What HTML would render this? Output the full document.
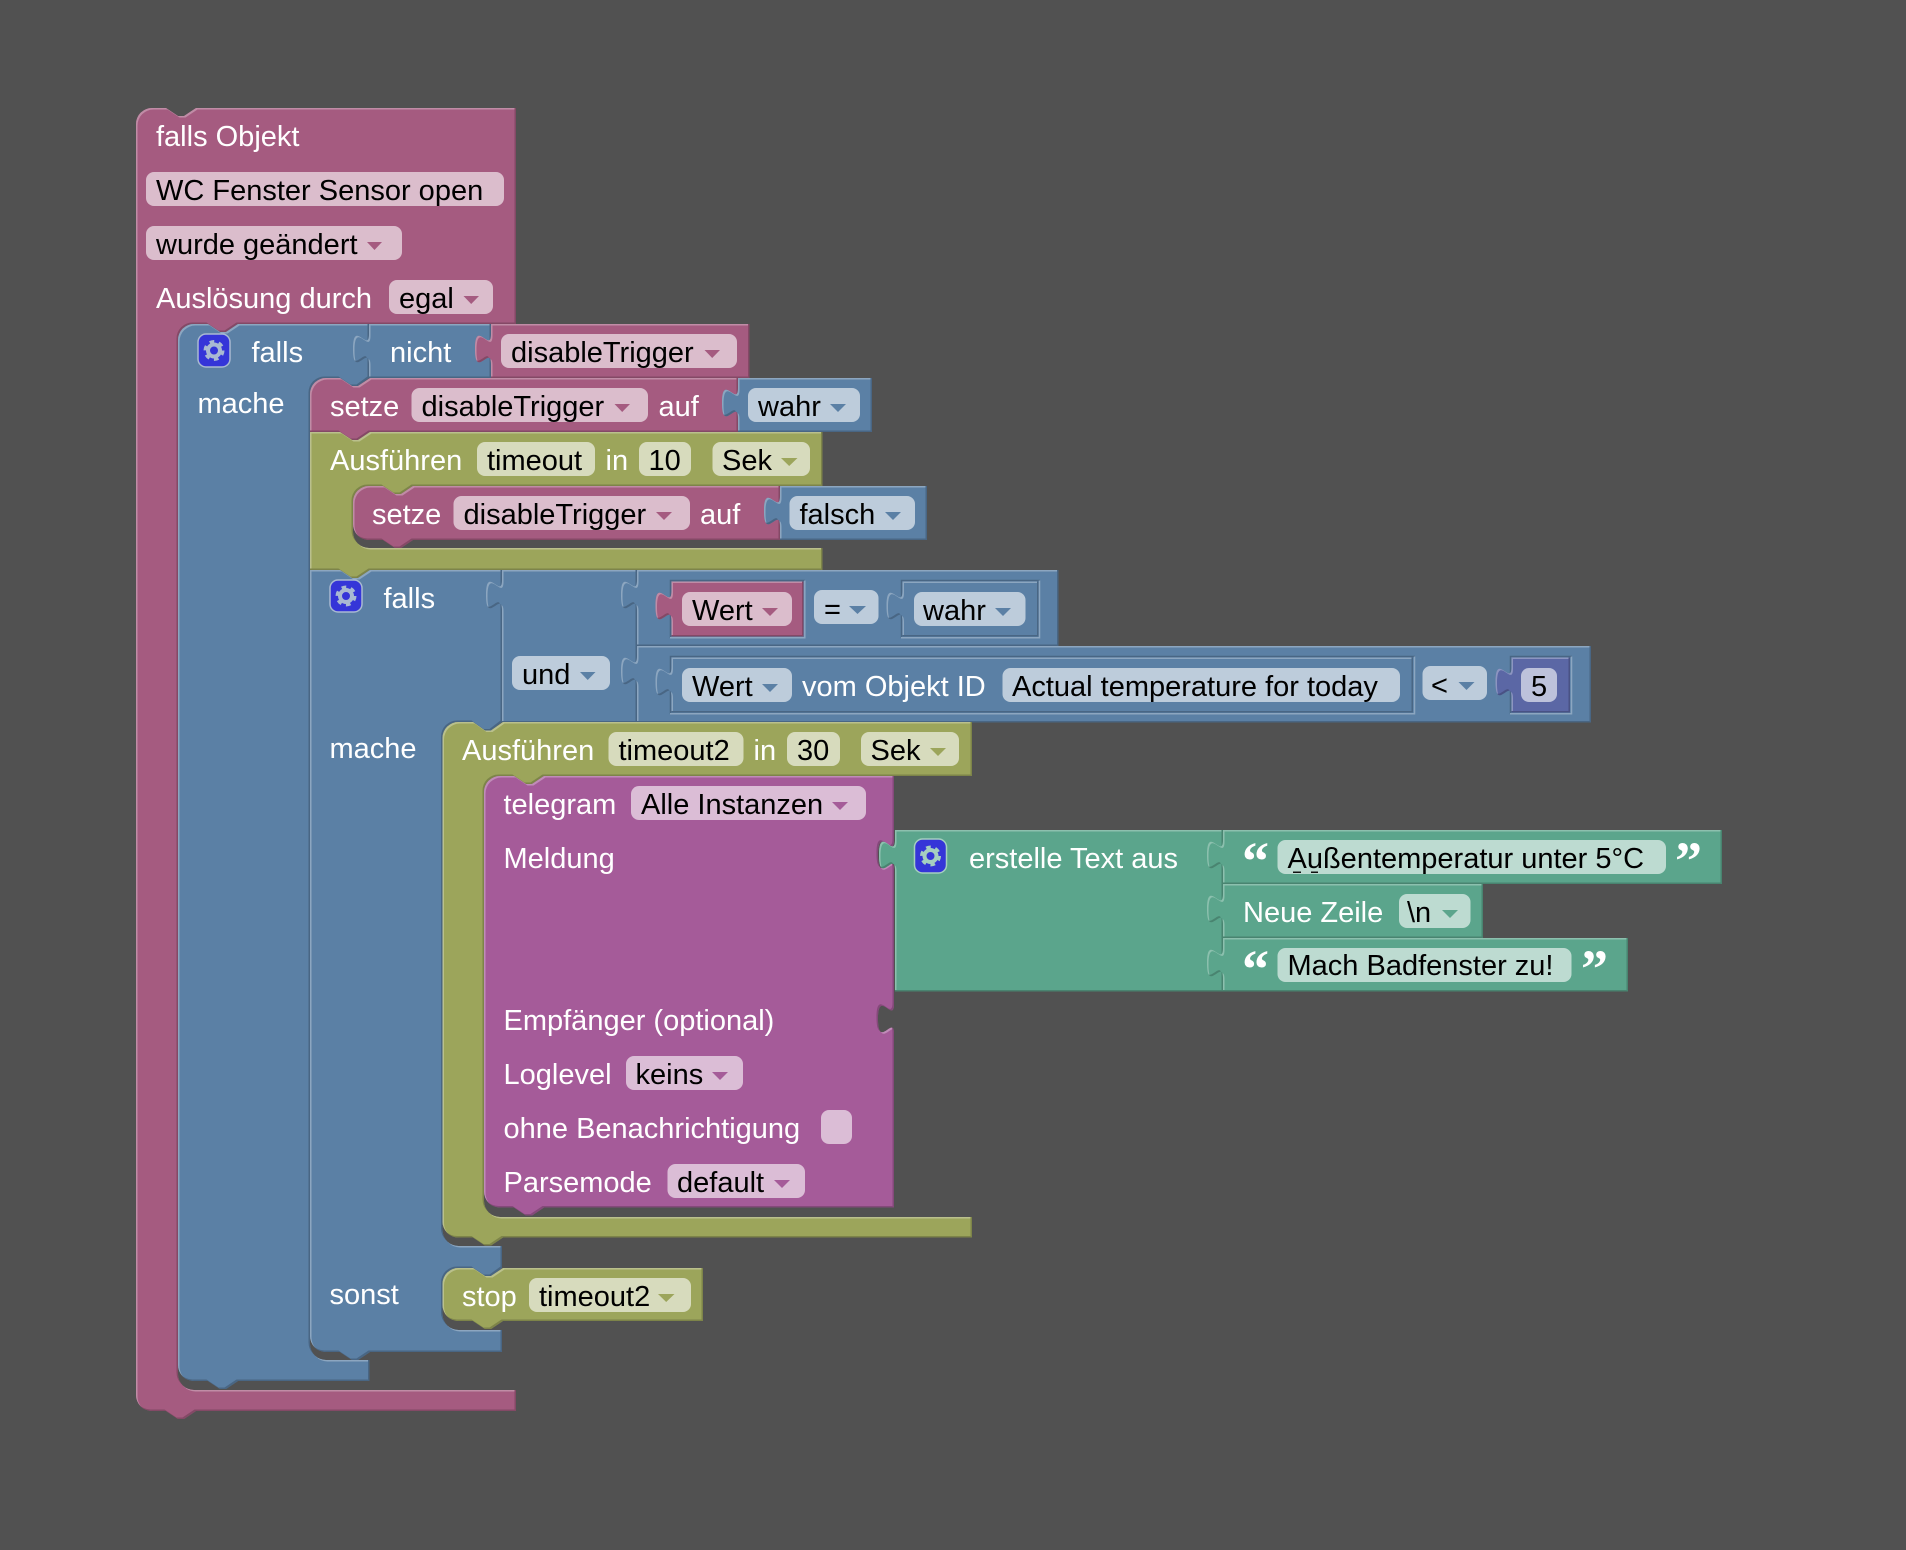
<!DOCTYPE html>
<html>
<head>
<meta charset="utf-8">
<style>
html,body{margin:0;padding:0;background:#515151;}
svg{display:block;}
text{font-family:"Liberation Sans",sans-serif;font-size:29px;}
.w{fill:#fff;}
.b{fill:#000;}
.q{font-family:"Liberation Serif",serif;font-weight:bold;font-size:54px;fill:#fff;}
.p{fill:#fff;fill-opacity:.6;}
.mag{fill:#a55b80;filter:url(#fmag);}
.blu{fill:#5b80a5;filter:url(#fblu);}
.olv{fill:#9ca55b;filter:url(#folv);}
.tel{fill:#a55b99;filter:url(#ftel);}
.tea{fill:#5ba58c;filter:url(#ftea);}
.num{fill:#5b67a5;filter:url(#fnum);}
.fd{fill:none;stroke:#496684;stroke-width:1.5;}
.fl{fill:none;stroke:#8ca6c0;stroke-width:1.5;}
</style>
</head>
<body>
<svg width="1906" height="1550" viewBox="0 0 1906 1550" xmlns="http://www.w3.org/2000/svg">
<defs>
<filter id="fmag" color-interpolation-filters="sRGB"><feOffset in="SourceAlpha" dx="1.5" dy="1.5" result="a"/><feComposite in="SourceAlpha" in2="a" operator="out" result="tl"/><feFlood flood-color="#c08ca6"/><feComposite in2="tl" operator="in" result="L"/><feOffset in="SourceAlpha" dx="-1.5" dy="-1.5" result="b"/><feComposite in="SourceAlpha" in2="b" operator="out" result="br"/><feFlood flood-color="#844966"/><feComposite in2="br" operator="in" result="D"/><feMerge><feMergeNode in="SourceGraphic"/><feMergeNode in="L"/><feMergeNode in="D"/></feMerge></filter>
<filter id="fblu" color-interpolation-filters="sRGB"><feOffset in="SourceAlpha" dx="1.5" dy="1.5" result="a"/><feComposite in="SourceAlpha" in2="a" operator="out" result="tl"/><feFlood flood-color="#8ca6c0"/><feComposite in2="tl" operator="in" result="L"/><feOffset in="SourceAlpha" dx="-1.5" dy="-1.5" result="b"/><feComposite in="SourceAlpha" in2="b" operator="out" result="br"/><feFlood flood-color="#496684"/><feComposite in2="br" operator="in" result="D"/><feMerge><feMergeNode in="SourceGraphic"/><feMergeNode in="L"/><feMergeNode in="D"/></feMerge></filter>
<filter id="folv" color-interpolation-filters="sRGB"><feOffset in="SourceAlpha" dx="1.5" dy="1.5" result="a"/><feComposite in="SourceAlpha" in2="a" operator="out" result="tl"/><feFlood flood-color="#bac08c"/><feComposite in2="tl" operator="in" result="L"/><feOffset in="SourceAlpha" dx="-1.5" dy="-1.5" result="b"/><feComposite in="SourceAlpha" in2="b" operator="out" result="br"/><feFlood flood-color="#7d8449"/><feComposite in2="br" operator="in" result="D"/><feMerge><feMergeNode in="SourceGraphic"/><feMergeNode in="L"/><feMergeNode in="D"/></feMerge></filter>
<filter id="ftel" color-interpolation-filters="sRGB"><feOffset in="SourceAlpha" dx="1.5" dy="1.5" result="a"/><feComposite in="SourceAlpha" in2="a" operator="out" result="tl"/><feFlood flood-color="#c08cb8"/><feComposite in2="tl" operator="in" result="L"/><feOffset in="SourceAlpha" dx="-1.5" dy="-1.5" result="b"/><feComposite in="SourceAlpha" in2="b" operator="out" result="br"/><feFlood flood-color="#84497a"/><feComposite in2="br" operator="in" result="D"/><feMerge><feMergeNode in="SourceGraphic"/><feMergeNode in="L"/><feMergeNode in="D"/></feMerge></filter>
<filter id="ftea" color-interpolation-filters="sRGB"><feOffset in="SourceAlpha" dx="1.5" dy="1.5" result="a"/><feComposite in="SourceAlpha" in2="a" operator="out" result="tl"/><feFlood flood-color="#8cc0ae"/><feComposite in2="tl" operator="in" result="L"/><feOffset in="SourceAlpha" dx="-1.5" dy="-1.5" result="b"/><feComposite in="SourceAlpha" in2="b" operator="out" result="br"/><feFlood flood-color="#498470"/><feComposite in2="br" operator="in" result="D"/><feMerge><feMergeNode in="SourceGraphic"/><feMergeNode in="L"/><feMergeNode in="D"/></feMerge></filter>
<filter id="fnum" color-interpolation-filters="sRGB"><feOffset in="SourceAlpha" dx="1.5" dy="1.5" result="a"/><feComposite in="SourceAlpha" in2="a" operator="out" result="tl"/><feFlood flood-color="#8c95c0"/><feComposite in2="tl" operator="in" result="L"/><feOffset in="SourceAlpha" dx="-1.5" dy="-1.5" result="b"/><feComposite in="SourceAlpha" in2="b" operator="out" result="br"/><feFlood flood-color="#495284"/><feComposite in2="br" operator="in" result="D"/><feMerge><feMergeNode in="SourceGraphic"/><feMergeNode in="L"/><feMergeNode in="D"/></feMerge></filter>
</defs>
<rect width="1906" height="1550" fill="#515151"/>

<!-- outer trigger block -->
<path class="mag" d="M136,124 A16,16 0 0 1 152,108 H166 l12,8 h6 l12,-8 H516 V324 H238 l-12,8 h-6 l-12,-8 H194 A16,16 0 0 0 178,340 V1374 A16,16 0 0 0 194,1390 H516 V1411 H196 l-12,8 h-6 l-12,-8 H152 A16,16 0 0 1 136,1395 Z"/>
<text class="w" x="156" y="146">falls Objekt</text>
<rect class="p" x="146" y="172" width="358" height="34" rx="8"/>
<text class="b" x="156" y="200">WC Fenster Sensor open</text>
<rect class="p" x="146" y="226" width="256" height="34" rx="8"/>
<text class="b" x="156" y="254">wurde geändert</text>
<polygon fill="#a55b80" points="367,242 382,242 374.5,250"/>
<text class="w" x="156" y="308">Auslösung durch</text>
<rect class="p" x="389" y="280" width="104" height="34" rx="8"/>
<text class="b" x="399" y="308">egal</text>
<polygon fill="#a55b80" points="463.5,296 479,296 471.2,304"/>

<!-- falls 1 -->
<path class="blu" d="M178,340 A16,16 0 0 1 194,324 H208 l12,8 h6 l12,-8 H369 V378 L358,386 H352 L340,378 H326 A16,16 0 0 0 310,394 V1344 A16,16 0 0 0 326,1360 H369.5 V1381 H238 l-12,8 h-6 l-12,-8 H194 A16,16 0 0 1 178,1365 Z"/>
<rect x="198" y="334" width="32" height="33" rx="8" fill="#3535d8" stroke="#a9b9d2" stroke-width="1.5"/>
<g fill="none" stroke="#a9b9d2"><circle cx="214" cy="350.5" r="6" stroke-width="4"/><circle cx="214" cy="350.5" r="9" stroke-width="3" stroke-dasharray="4.7 4.72"/></g>
<text class="w" x="251.5" y="362">falls</text>
<text class="w" x="197.5" y="413">mache</text>

<path class="blu" d="M369,324 H491 V378 H369 V364 c0,-20 -16,16 -16,-15 s16,5 16,-15 Z"/>
<text class="w" x="390" y="362">nicht</text>
<path class="mag" d="M491,324 H749.5 V378 H491 V364 c0,-20 -16,16 -16,-15 s16,5 16,-15 Z"/>
<rect class="p" x="501" y="334" width="236" height="34" rx="8"/>
<text class="b" x="511" y="362">disableTrigger</text>
<polygon fill="#a55b80" points="704.5,350 720,350 712.2,358"/>

<!-- setze 1 -->
<path class="mag" d="M310,394 A16,16 0 0 1 326,378 H340 l12,8 h6 l12,-8 H738 V432 H370 l-12,8 h-6 l-12,-8 H310 Z"/>
<text class="w" x="330" y="416">setze</text>
<rect class="p" x="411.5" y="388" width="236.5" height="34" rx="8"/>
<text class="b" x="421.5" y="416">disableTrigger</text>
<polygon fill="#a55b80" points="614.5,404 630,404 622.2,412"/>
<text class="w" x="658.5" y="416">auf</text>
<path class="blu" d="M738,378 H872 V432 H738 V418 c0,-20 -16,16 -16,-15 s16,5 16,-15 Z"/>
<rect class="p" x="748" y="388" width="112" height="34" rx="8"/>
<text class="b" x="758" y="416">wahr</text>
<polygon fill="#5b80a5" points="830,404 846,404 838,412"/>

<!-- Ausfuehren 1 -->
<path class="olv" d="M310,432 H340 l12,8 h6 l12,-8 H822.5 V486 H413 l-12,8 h-6 l-12,-8 H369 A16,16 0 0 0 353,502 V532 A16,16 0 0 0 369,548 H822.5 V570 H370 l-12,8 h-6 l-12,-8 H310 Z"/>
<text class="w" x="330" y="470">Ausführen</text>
<rect class="p" x="477" y="442" width="118" height="34" rx="8"/>
<text class="b" x="487" y="470">timeout</text>
<text class="w" x="605.5" y="470">in</text>
<rect class="p" x="639" y="442" width="52" height="34" rx="8"/>
<text class="b" x="648.5" y="470">10</text>
<rect class="p" x="712.5" y="442" width="97.5" height="34" rx="8"/>
<text class="b" x="722" y="470">Sek</text>
<polygon fill="#9ca55b" points="781,458 797.5,458 789.2,466"/>

<path class="mag" d="M353,502 A16,16 0 0 1 369,486 H383 l12,8 h6 l12,-8 H780 V540 H413 l-12,8 h-6 l-12,-8 H369 A16,16 0 0 1 353,524 Z"/>
<text class="w" x="372" y="524">setze</text>
<rect class="p" x="453.5" y="496" width="236.5" height="34" rx="8"/>
<text class="b" x="463.5" y="524">disableTrigger</text>
<polygon fill="#a55b80" points="656,512 672,512 664,520"/>
<text class="w" x="700" y="524">auf</text>
<path class="blu" d="M780,486 H927 V540 H780 V526 c0,-20 -16,16 -16,-15 s16,5 16,-15 Z"/>
<rect class="p" x="789.5" y="496" width="125.5" height="34" rx="8"/>
<text class="b" x="799.5" y="524">falsch</text>
<polygon fill="#5b80a5" points="885,512 901,512 893,520"/>

<!-- falls 2 -->
<path class="blu" d="M310,570 H340 l12,8 h6 l12,-8 H502 V722 L491,730.5 H485 L473,722 H458.5 A16,16 0 0 0 442.5,738 V1230 A16,16 0 0 0 458.5,1246 H502 V1268 L491,1276 H485 L473,1268 H458.5 A16,16 0 0 0 442.5,1284 V1314 A16,16 0 0 0 458.5,1330 H502 V1352 H370 l-12,8 h-6 l-12,-8 H326 A16,16 0 0 1 310,1336 Z"/>
<rect x="330" y="580" width="32" height="32" rx="8" fill="#3535d8" stroke="#a9b9d2" stroke-width="1.5"/>
<g fill="none" stroke="#a9b9d2"><circle cx="346" cy="596" r="6" stroke-width="4"/><circle cx="346" cy="596" r="9" stroke-width="3" stroke-dasharray="4.7 4.72"/></g>
<text class="w" x="383.5" y="608">falls</text>
<text class="w" x="329.5" y="758">mache</text>
<text class="w" x="329.5" y="1304">sonst</text>

<!-- und -->
<path class="blu" d="M502,570 H637 V722.5 H502 V610 c0,-20 -16,16 -16,-15 s16,5 16,-15 Z"/>
<rect class="p" x="512" y="656" width="98" height="34" rx="8"/>
<text class="b" x="522" y="684">und</text>
<polygon fill="#5b80a5" points="580,672 595.5,672 587.7,680"/>

<!-- row 1 -->
<path class="blu" d="M637,570 H1058.5 V646 H637 V610 c0,-20 -16,16 -16,-15 s16,5 16,-15 Z"/>
<path class="fd" d="M670.5,638 V580.5 H805"/><path class="fl" d="M804.8,580.5 V637.8 H670"/>
<path class="mag" d="M671.5,581.5 H803.5 V636.5 H671.5 V621 c0,-20 -16,16 -16,-15 s16,5 16,-15 Z"/>
<rect class="p" x="682" y="592" width="110" height="34" rx="8"/>
<text class="b" x="692" y="620">Wert</text>
<polygon fill="#a55b80" points="762,608 778,608 770,616"/>
<rect class="p" x="814" y="590" width="64.5" height="34" rx="8"/>
<text class="b" x="824" y="619">=</text>
<polygon fill="#5b80a5" points="849,606 866,606 857.5,614"/>
<path class="fd" d="M901.5,638 V580.5 H1040"/><path class="fl" d="M1039.5,580.5 V637.8 H901"/>
<path class="blu" d="M902.5,581.5 H1038.5 V636.5 H902.5 V621 c0,-20 -16,16 -16,-15 s16,5 16,-15 Z"/>
<rect class="p" x="914" y="592" width="111.5" height="34" rx="8"/>
<text class="b" x="923" y="620">wahr</text>
<polygon fill="#5b80a5" points="995,608 1011,608 1003,616"/>

<!-- row 2 -->
<path class="blu" d="M637,646 H1591 V722.5 H637 V686 c0,-20 -16,16 -16,-15 s16,5 16,-15 Z"/>
<path class="fd" d="M670.5,714 V656.5 H1415"/><path class="fl" d="M1414.5,656.5 V713.8 H670"/>
<path class="blu" d="M671.5,657.5 H1413 V712.5 H671.5 V697 c0,-20 -16,16 -16,-15 s16,5 16,-15 Z"/>
<rect class="p" x="682" y="668" width="110" height="34" rx="8"/>
<text class="b" x="692" y="696">Wert</text>
<polygon fill="#5b80a5" points="762,684 778,684 770,692"/>
<text class="w" x="802" y="696">vom Objekt ID</text>
<rect class="p" x="1002.5" y="668" width="397.5" height="34" rx="8"/>
<text class="b" x="1012" y="696">Actual temperature for today</text>
<rect class="p" x="1422.5" y="666" width="64.5" height="34" rx="8"/>
<text class="b" x="1431" y="695">&lt;</text>
<polygon fill="#5b80a5" points="1458.5,682 1474.5,682 1466.5,690"/>
<path class="fd" d="M1510.5,714 V656.5 H1572"/><path class="fl" d="M1571.5,656.5 V713.8 H1510"/>
<path class="num" d="M1511.5,657.5 H1570 V712.5 H1511.5 V697 c0,-20 -16,16 -16,-15 s16,5 16,-15 Z"/>
<rect class="p" x="1521" y="668" width="36" height="34" rx="8"/>
<text class="b" x="1531" y="696">5</text>

<!-- Ausfuehren 2 -->
<path class="olv" d="M442.5,738 A16,16 0 0 1 458.5,722 H473 l12,8.5 h6 l12,-8.5 H972 V776 H544 l-12,8 h-6 l-12,-8 H500 A16,16 0 0 0 484,792 V1201 A16,16 0 0 0 500,1217 H972 V1237.5 H503 l-12,8 h-6 l-12,-8 H458.5 A16,16 0 0 1 442.5,1221 Z"/>
<text class="w" x="462" y="760">Ausführen</text>
<rect class="p" x="608.5" y="732" width="135" height="34" rx="8"/>
<text class="b" x="618.5" y="760">timeout2</text>
<text class="w" x="753.5" y="760">in</text>
<rect class="p" x="787" y="732" width="53" height="34" rx="8"/>
<text class="b" x="797" y="760">30</text>
<rect class="p" x="861" y="732" width="98" height="34" rx="8"/>
<text class="b" x="870.5" y="760">Sek</text>
<polygon fill="#9ca55b" points="930,748 946,748 938,756"/>

<!-- telegram -->
<path class="tel" d="M484,792 A16,16 0 0 1 500,776 H514 l12,8 h6 l12,-8 H894 V840 c0,20 -16,-16 -16,15 s16,-5 16,15 V1004 c0,20 -16,-16 -16,15 s16,-5 16,15 V1207.5 H544 l-12,8 h-6 l-12,-8 H500 A16,16 0 0 1 484,1191.5 Z"/>
<text class="w" x="503.5" y="814">telegram</text>
<rect class="p" x="631" y="786" width="235" height="34" rx="8"/>
<text class="b" x="641" y="814">Alle Instanzen</text>
<polygon fill="#a55b99" points="832,802 848,802 840,810"/>
<text class="w" x="503.5" y="868">Meldung</text>
<text class="w" x="503.5" y="1030">Empfänger (optional)</text>
<text class="w" x="503.5" y="1084">Loglevel</text>
<rect class="p" x="626" y="1056" width="117" height="34" rx="8"/>
<text class="b" x="635.5" y="1084">keins</text>
<polygon fill="#a55b99" points="712,1072 728,1072 720,1080"/>
<text class="w" x="503.5" y="1138">ohne Benachrichtigung</text>
<rect class="p" x="821" y="1110" width="31" height="34" rx="8"/>
<text class="w" x="503.5" y="1192">Parsemode</text>
<rect class="p" x="667.5" y="1164" width="137.5" height="34" rx="8"/>
<text class="b" x="677" y="1192">default</text>
<polygon fill="#a55b99" points="774,1180 790,1180 782,1188"/>

<!-- text join -->
<path class="tea" d="M895,830 H1223 V991.5 H895 V870 c0,-20 -16,16 -16,-15 s16,5 16,-15 Z"/>
<rect x="914.5" y="839" width="32" height="34" rx="8" fill="#3535d8" stroke="#a5cfc0" stroke-width="1.5"/>
<g fill="none" stroke="#a5cfc0"><circle cx="930.5" cy="856" r="6" stroke-width="4"/><circle cx="930.5" cy="856" r="9" stroke-width="3" stroke-dasharray="4.7 4.72"/></g>
<text class="w" x="969" y="868">erstelle Text aus</text>

<path class="tea" d="M1223,830 H1722 V884 H1223 V870 c0,-20 -16,16 -16,-15 s16,5 16,-15 Z"/>
<text class="q" x="1242" y="879">“</text>
<rect class="p" x="1277.5" y="840" width="388.5" height="34" rx="8"/>
<text class="b" x="1287.5" y="868">Außentemperatur unter 5°C</text>
<rect x="1293" y="871.5" width="8" height="1.5" fill="#111"/>
<rect x="1311" y="871.5" width="7" height="1.5" fill="#111"/>
<text class="q" x="1675" y="879">”</text>

<path class="tea" d="M1223,884 H1483 V938 H1223 V924 c0,-20 -16,16 -16,-15 s16,5 16,-15 Z"/>
<text class="w" x="1243" y="922">Neue Zeile</text>
<rect class="p" x="1399" y="894" width="71.5" height="34" rx="8"/>
<text class="b" x="1407" y="922">\n</text>
<polygon fill="#5ba58c" points="1442,910 1458,910 1450,918"/>

<path class="tea" d="M1223,938 H1628 V991.5 H1223 V978 c0,-20 -16,16 -16,-15 s16,5 16,-15 Z"/>
<text class="q" x="1242" y="987">“</text>
<rect class="p" x="1277.5" y="948" width="294" height="34" rx="8"/>
<text class="b" x="1287.5" y="975">Mach Badfenster zu!</text>
<text class="q" x="1581" y="987">”</text>

<!-- stop -->
<path class="olv" d="M442.5,1284 A16,16 0 0 1 458.5,1268 H473 l12,8 h6 l12,-8 H703 V1321 H503 l-12,8 h-6 l-12,-8 H458.5 A16,16 0 0 1 442.5,1305 Z"/>
<text class="w" x="462" y="1306">stop</text>
<rect class="p" x="529" y="1278" width="162" height="34" rx="8"/>
<text class="b" x="539" y="1306">timeout2</text>
<polygon fill="#9ca55b" points="658,1294 674.5,1294 666.2,1302"/>
</svg>
</body>
</html>
